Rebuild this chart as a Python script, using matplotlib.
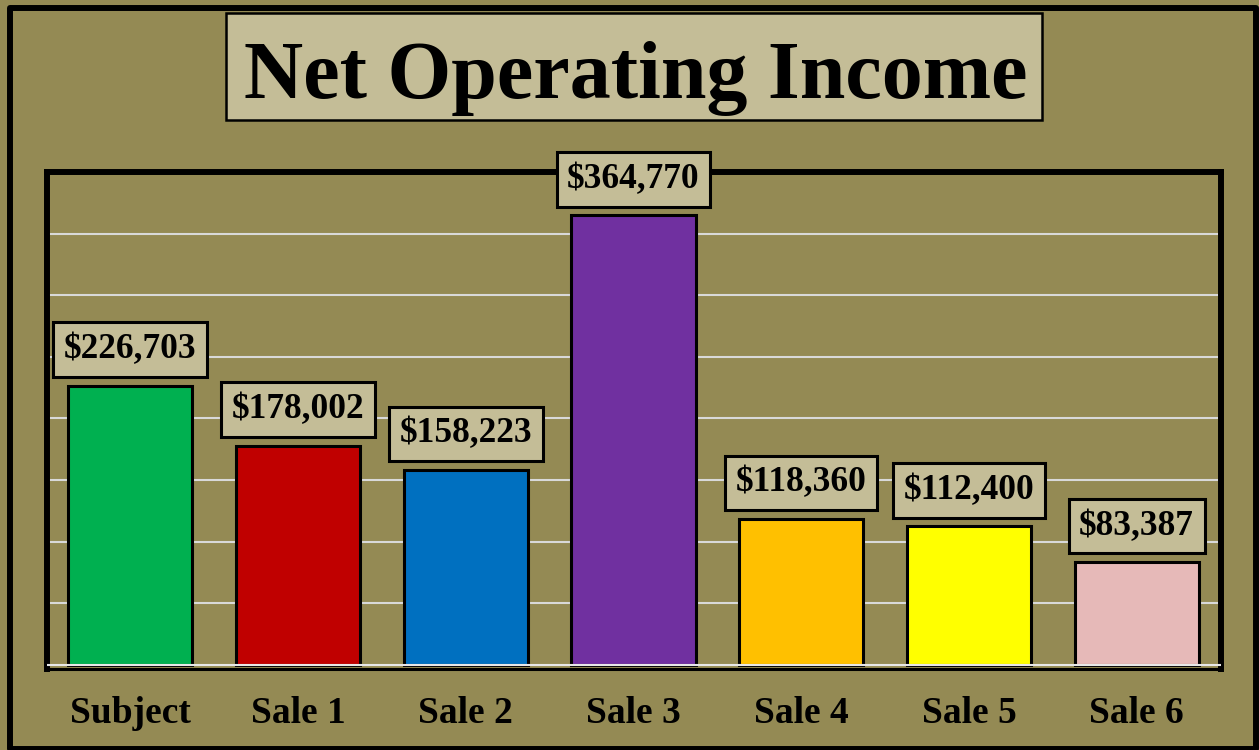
import numpy as np
import matplotlib
matplotlib.use("Agg")
from matplotlib import pyplot as plt
from matplotlib.patches import Rectangle

categories = ["Subject", "Sale 1", "Sale 2", "Sale 3", "Sale 4", "Sale 5", "Sale 6"]
noi = [226703, 178002, 158223, 364770, 118360, 112400, 83387]
bar_colors = ["#00B050", "#C00000", "#0070C0", "#7030A0", "#FFC000", "#FFFF00", "#E6B9B8"]

BG = "#948A54"
TAN = "#C4BD97"
SERIF = ["Liberation Serif", "DejaVu Serif"]
W, H = 1259, 750


def px(x, y):
    # pixel position (from top-left) -> figure fraction
    return x / W, 1 - y / H


fig = plt.figure(figsize=(W / 100, H / 100), dpi=100)
fig.patch.set_facecolor(BG)

# outer frame around the whole chart
x0, y0 = px(10, 749)
x1, y1 = px(1256, 7.5)
fig.patches.append(Rectangle((x0, y0), x1 - x0, y1 - y0, transform=fig.transFigure,
                             fill=False, ec="black", lw=4.3, joinstyle="round", zorder=10))

# title box
tx0, ty0 = px(226, 120)
tx1, ty1 = px(1042, 13)
fig.patches.append(Rectangle((tx0, ty0), tx1 - tx0, ty1 - ty0, transform=fig.transFigure,
                             fc=TAN, ec="black", lw=1.8, zorder=5))
fig.text(*px(636, 98), "Net Operating Income", ha="center", va="baseline",
         fontsize=59, fontweight="bold", family=SERIF, zorder=6)

# plot area
ax_l, ax_b = px(46.5, 669)
ax_r, ax_t = px(1220.5, 172)
ax = fig.add_axes([ax_l, ax_b, ax_r - ax_l, ax_t - ax_b])
ax.set_facecolor(BG)

x = np.arange(len(categories))
ax.bar(x, noi, width=0.74, color=bar_colors, edgecolor="black", linewidth=2.2, zorder=2)

ax.set_xlim(-0.5, len(categories) - 0.5)
ax.set_ylim(-3300, 400000)
ax.set_yticks(np.arange(50000, 400001, 50000))
ax.yaxis.grid(True, color="#D9D9D9", lw=1.5)
ax.set_axisbelow(True)
ax.tick_params(axis="y", length=0, labelleft=False)
ax.axhline(0, color="#E8E8E8", lw=1.5, zorder=3)

for side in ["left", "top", "right"]:
    ax.spines[side].set_linewidth(4.3)
ax.spines["bottom"].set_linewidth(2.2)
for sp in ax.spines.values():
    sp.set_color("black")

ax.set_xticks(x)
ax.set_xticklabels(categories, fontsize=27, fontweight="bold", family=SERIF)
ax.tick_params(axis="x", length=0, pad=19.5)

# value labels above bars
for i, v in enumerate(noi):
    ax.annotate("${:,}".format(v), (i, v), xytext=(0, 36), textcoords="offset pixels",
                ha="center", va="center", fontsize=25.5, fontweight="bold", family=SERIF,
                annotation_clip=False, zorder=6,
                bbox=dict(boxstyle="square,pad=0.3", fc=TAN, ec="black", lw=2.2))

fig.savefig("out.png", dpi=100, facecolor=BG)
